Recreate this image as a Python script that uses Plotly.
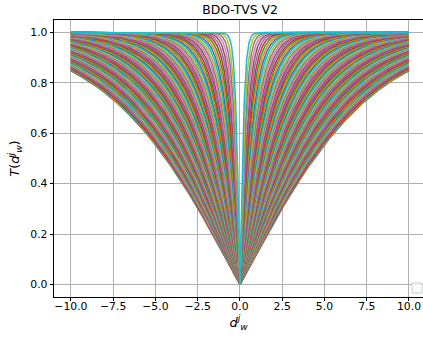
import numpy as np
import plotly.graph_objects as go

# distance axis samples
d_values = np.linspace(-10, 10, 2001)
# curve scale parameters (outermost blue -> innermost cyan)
scales = [8.000, 7.922, 7.844, 7.766, 7.688, 7.610, 7.532, 7.454, 7.376, 7.298,
          7.220, 7.142, 7.064, 6.986, 6.908, 6.830, 6.752, 6.674, 6.596, 6.518,
          6.440, 6.362, 6.284, 6.206, 6.128, 6.050, 5.972, 5.894, 5.816, 5.738,
          5.660, 5.582, 5.504, 5.426, 5.348, 5.270, 5.192, 5.114, 5.036, 4.958,
          4.880, 4.802, 4.724, 4.646, 4.568, 4.490, 4.412, 4.334, 4.256, 4.178,
          4.100, 4.022, 3.944, 3.866, 3.788, 3.710, 3.632, 3.554, 3.476, 3.398,
          3.320, 3.242, 3.164, 3.086, 3.008, 2.930, 2.852, 2.774, 2.696, 2.618,
          2.540, 2.462, 2.384, 2.306, 2.228, 2.150, 2.072, 1.994, 1.916, 1.838,
          1.760, 1.682, 1.604, 1.526, 1.448, 1.370, 1.292, 1.214, 1.136, 1.058,
          0.980, 0.902, 0.824, 0.746, 0.668, 0.590, 0.512, 0.434, 0.356, 0.278]

colors = ["#1f77b4", "#ff7f0e", "#2ca02c", "#d62728", "#9467bd",
          "#8c564b", "#e377c2", "#7f7f7f", "#bcbd22", "#17becf"]

x_ticks = [-10.0, -7.5, -5.0, -2.5, 0.0, 2.5, 5.0, 7.5, 10.0]
x_ticktext = ["\u221210.0", "\u22127.5", "\u22125.0", "\u22122.5", "0.0", "2.5", "5.0", "7.5", "10.0"]
y_ticks = [0.0, 0.2, 0.4, 0.6, 0.8, 1.0]
y_ticktext = ["0.0", "0.2", "0.4", "0.6", "0.8", "1.0"]

fig = go.Figure()
for i, s in enumerate(scales):
    t = np.tanh(np.abs(d_values) / s)
    fig.add_trace(go.Scatter(x=d_values, y=t, mode="lines",
                             line=dict(color=colors[i % 10], width=1.5),
                             showlegend=False, hoverinfo="skip"))

font = "DejaVu Sans"
fig.update_layout(
    width=423, height=339,
    margin=dict(l=54, r=0, t=20, b=42),
    paper_bgcolor="white", plot_bgcolor="white",
    font=dict(family=font, size=10.8, color="black"),
    title=dict(text="BDO-TVS V2", x=240 / 423, xanchor="center",
               y=1 - 10 / 339, yanchor="middle",
               font=dict(family=font, size=12.4, color="black")),
    showlegend=False,
)
fig.update_xaxes(range=[-11.0, 10.83], tickvals=x_ticks, ticktext=x_ticktext,
                 showgrid=True, gridcolor="#b0b0b0", gridwidth=0.8,
                 showline=True, linecolor="black", linewidth=0.8, mirror=True,
                 ticks="outside", ticklen=3.5, tickwidth=0.8, tickcolor="black",
                 ticklabelstandoff=-4,
                 zeroline=False,
                 title=dict(text="<i>d</i><sup><i>j</i></sup><sub><i>w</i></sub>", standoff=1))
fig.update_yaxes(range=[-0.05, 1.05], tickvals=y_ticks, ticktext=y_ticktext,
                 showgrid=True, gridcolor="#b0b0b0", gridwidth=0.8,
                 showline=True, linecolor="black", linewidth=0.8, mirror=False,
                 ticks="outside", ticklen=3.5, tickwidth=0.8, tickcolor="black",
                 zeroline=False,
                 title=dict(text="<i>T</i>(<i>d</i><sup><i>j</i></sup><sub><i>w</i></sub>)", standoff=7))

# empty legend frame (lower right)
x0, x1 = (412 - 54) / 369, (422 - 54) / 369
y0, y1 = (297 - 293) / 277, (297 - 283) / 277
fig.add_shape(type="rect", xref="paper", yref="paper", x0=x0, x1=x1, y0=y0, y1=y1,
              line=dict(color="#cccccc", width=1), fillcolor="rgba(255,255,255,0.8)",
              layer="above")

fig.write_html("out.html")
